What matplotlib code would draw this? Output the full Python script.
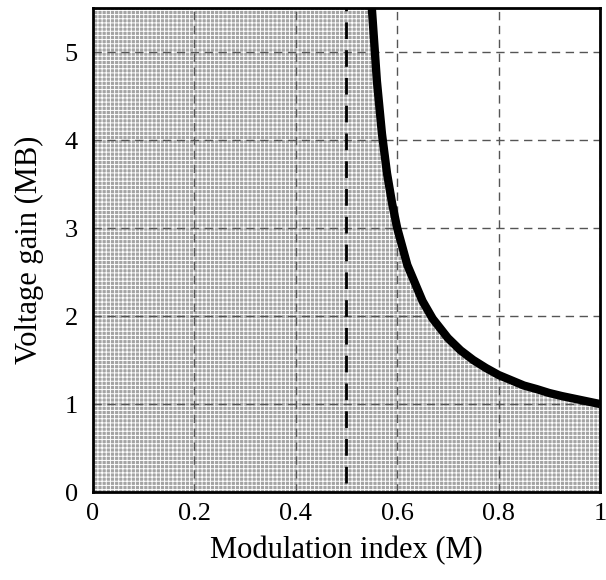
import matplotlib
matplotlib.use("Agg")
import matplotlib.pyplot as plt

# curve: voltage gain vs modulation index
mod_index = [0.545, 0.55, 0.56, 0.57, 0.58, 0.59, 0.60, 0.62, 0.65, 0.67, 0.70,
             0.725, 0.75, 0.775, 0.80, 0.85, 0.875, 0.90, 0.925, 0.95, 0.975, 1.00]
gain = [5.5, 5.5, 4.67, 4.07, 3.62, 3.28, 3.00, 2.58, 2.17, 1.97, 1.75,
        1.61, 1.50, 1.41, 1.33, 1.21, 1.17, 1.125, 1.09, 1.06, 1.03, 1.00]

# shaded region: full height left of the curve, then under it
fill_m = [0.0] + mod_index
fill_top = [5.5] + gain

boundary_m = 0.5
x_ticks = [0, 0.2, 0.4, 0.6, 0.8, 1]
x_labels = ["0", "0.2", "0.4", "0.6", "0.8", "1"]
y_ticks = [0, 1, 2, 3, 4, 5]

plt.rcParams['font.family'] = ['Liberation Serif', 'DejaVu Serif']
plt.rcParams['hatch.color'] = 'white'
plt.rcParams['hatch.linewidth'] = 0.7

fig = plt.figure(figsize=(6.06, 5.8), dpi=100)
ax = fig.add_axes([0.1535, 0.1517, 0.8365, 0.8345])

ax.fill_between(fill_m, 0, fill_top, facecolor='#a4a4a4', hatch='++++',
                edgecolor='white', linewidth=0, zorder=0.5)
ax.plot(mod_index, gain, color='black', linewidth=6, solid_capstyle='butt', zorder=3)
ax.plot([boundary_m, boundary_m], [0.1, 5.5], color='black', linewidth=2,
        linestyle=(0, (6, 4)), zorder=3)

ax.set_xlim(0, 1)
ax.set_ylim(0, 5.5)
ax.set_xticks(x_ticks)
ax.set_xticklabels(x_labels)
ax.set_yticks(y_ticks)
ax.set_axisbelow('line')
ax.grid(True, color='#555555', linestyle=(0, (6, 4)), linewidth=1)
ax.tick_params(length=0, labelsize=19)
ax.tick_params(axis='x', pad=8)
ax.tick_params(axis='y', pad=11)
for s in ax.spines.values():
    s.set_linewidth(2)
    s.set_zorder(4)

ax.set_xlabel("Modulation index (M)", fontsize=22, labelpad=8)
ax.set_ylabel("Voltage gain (MB)", fontsize=22, labelpad=15)

fig.savefig("out.png", dpi=100)
